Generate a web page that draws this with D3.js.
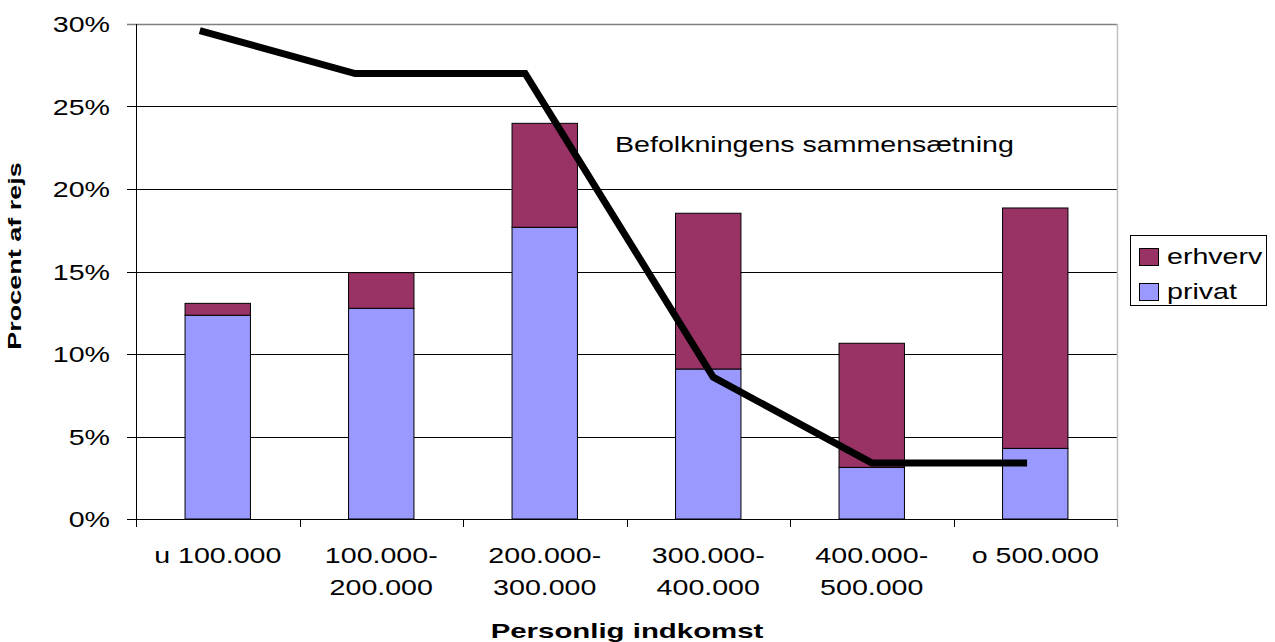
<!DOCTYPE html>
<html>
<head>
<meta charset="utf-8">
<script src="https://cdn.jsdelivr.net/npm/d3@7"></script>
<style>
  body { margin: 0; background: #fff; }
  svg { display: block; font-family: "Liberation Sans", Arial, sans-serif; }
</style>
</head>
<body>
<svg id="chart" width="1275" height="642"></svg>
<script>
// categories (two-line tick labels)
const categories = ["u 100.000", "100.000-200.000", "200.000-300.000", "300.000-400.000", "400.000-500.000", "o 500.000"];
const tickLines = [["u 100.000"], ["100.000-", "200.000"], ["200.000-", "300.000"], ["300.000-", "400.000"], ["400.000-", "500.000"], ["o 500.000"]];

// stacked series, percent of trips
const privat = [12.35, 12.77, 17.68, 9.09, 3.13, 4.28];
const erhverv = [0.72, 2.16, 6.30, 9.44, 7.52, 14.57];

// population composition line (hand-placed in the original, x in category units)
const befolkningPos = [0.39, 1.34, 2.38, 3.53, 4.50, 5.45];
const befolkning = [29.6, 27.0, 27.0, 8.6, 3.4, 3.4];

const yTicks = [0, 5, 10, 15, 20, 25, 30];

const colors = { privat: "#9999FF", erhverv: "#993366" };

const svg = d3.select("#chart");
const plotL = 136, plotR = 1117, plotT = 24, plotB = 519;

const x = d3.scaleBand()
  .domain(categories)
  .range([plotL, plotR])
  .paddingInner(0.6)
  .paddingOuter(0.3);

const xIdx = d3.scaleLinear().domain([0, categories.length]).range([plotL, plotR]);

const y = d3.scaleLinear().domain([0, 30]).range([plotB, plotT]);

// text in the original is stretched horizontally
function label(g, txt, tx, ty, opts) {
  const o = Object.assign({ size: 22, sx: 1.3, anchor: "start", weight: "normal", rotate: 0 }, opts);
  return g.append("text")
    .attr("transform", `translate(${tx},${ty}) rotate(${o.rotate}) scale(${o.sx},1)`)
    .attr("text-anchor", o.anchor)
    .attr("font-size", o.size)
    .attr("font-weight", o.weight)
    .attr("fill", "#000")
    .text(txt);
}

// gridlines
svg.append("g")
  .selectAll("line")
  .data(yTicks.filter(d => d > 0))
  .join("line")
  .attr("x1", plotL - 9)
  .attr("x2", plotR)
  .attr("y1", d => Math.round(y(d)) + 0.5)
  .attr("y2", d => Math.round(y(d)) + 0.5)
  .attr("stroke", d => d === 30 ? "#808080" : "#000")
  .attr("stroke-width", d => d === 30 ? 1.5 : 1);

// right edge of plot area
svg.append("line")
  .attr("x1", plotR + 0.5).attr("x2", plotR + 0.5)
  .attr("y1", plotT).attr("y2", plotB + 8)
  .attr("stroke", "#c0c0c0").attr("stroke-width", 1.5);

// stacked bars
const stack = d3.stack().keys(["privat", "erhverv"]);
const rows = categories.map((c, i) => ({ cat: c, privat: privat[i], erhverv: erhverv[i] }));
const series = stack(rows);

svg.append("g")
  .selectAll("g")
  .data(series)
  .join("g")
  .attr("fill", d => colors[d.key])
  .selectAll("rect")
  .data(d => d)
  .join("rect")
  .attr("x", d => x(d.data.cat))
  .attr("width", x.bandwidth())
  .attr("y", d => y(d[1]))
  .attr("height", d => y(d[0]) - y(d[1]))
  .attr("stroke", "#000")
  .attr("stroke-width", 1);

// axes
const yAxis = svg.append("g");
yAxis.append("line")
  .attr("x1", plotL + 0.5).attr("x2", plotL + 0.5)
  .attr("y1", plotT).attr("y2", plotB)
  .attr("stroke", "#000");
yAxis.append("line")
  .attr("x1", plotL - 9).attr("x2", plotL)
  .attr("y1", plotB + 0.5).attr("y2", plotB + 0.5)
  .attr("stroke", "#000");
yTicks.forEach(t => {
  label(yAxis, t + "%", 110, y(t) + 8, { anchor: "end" });
});

const xAxis = svg.append("g");
xAxis.append("line")
  .attr("x1", plotL).attr("x2", plotR)
  .attr("y1", plotB + 0.5).attr("y2", plotB + 0.5)
  .attr("stroke", "#000");
xAxis.selectAll("line.tick")
  .data(d3.range(categories.length + 1))
  .join("line")
  .attr("class", "tick")
  .attr("x1", d => Math.round(xIdx(d)) + 0.5)
  .attr("x2", d => Math.round(xIdx(d)) + 0.5)
  .attr("y1", plotB)
  .attr("y2", plotB + 8)
  .attr("stroke", d => d === categories.length ? "#808080" : "#000");

categories.forEach((c, i) => {
  const cx = x(c) + x.bandwidth() / 2;
  tickLines[i].forEach((ln, j) => {
    label(xAxis, ln, cx, 563 + j * 32, { anchor: "middle" });
  });
});

// population line
const line = d3.line()
  .x((d, i) => xIdx(befolkningPos[i]))
  .y(d => y(d));

svg.append("path")
  .datum(befolkning)
  .attr("d", line)
  .attr("fill", "none")
  .attr("stroke", "#000")
  .attr("stroke-width", 7)
  .attr("stroke-linejoin", "miter")
  .attr("stroke-linecap", "butt");

label(svg, "Befolkningens sammensætning", 615, 152, { size: 22 });

// axis titles
label(svg, "Personlig indkomst", 627, 638, { anchor: "middle", weight: "bold", size: 21, sx: 1.4 });
label(svg, "Procent af rejs", 21, 256, { anchor: "middle", weight: "bold", size: 18.6, sx: 1.45, rotate: -90 });

// legend
const legend = svg.append("g");
legend.append("rect")
  .attr("x", 1130.5).attr("y", 235.5)
  .attr("width", 136).attr("height", 70)
  .attr("fill", "#fff").attr("stroke", "#000");
const legendItems = [["erhverv", colors.erhverv], ["privat", colors.privat]];
legendItems.forEach(([name, col], i) => {
  legend.append("rect")
    .attr("x", 1139.5).attr("y", 248.5 + i * 35)
    .attr("width", 19).attr("height", 17)
    .attr("fill", col).attr("stroke", "#000");
  label(legend, name, 1167, 264 + i * 35, { size: 22 });
});
</script>
</body>
</html>
